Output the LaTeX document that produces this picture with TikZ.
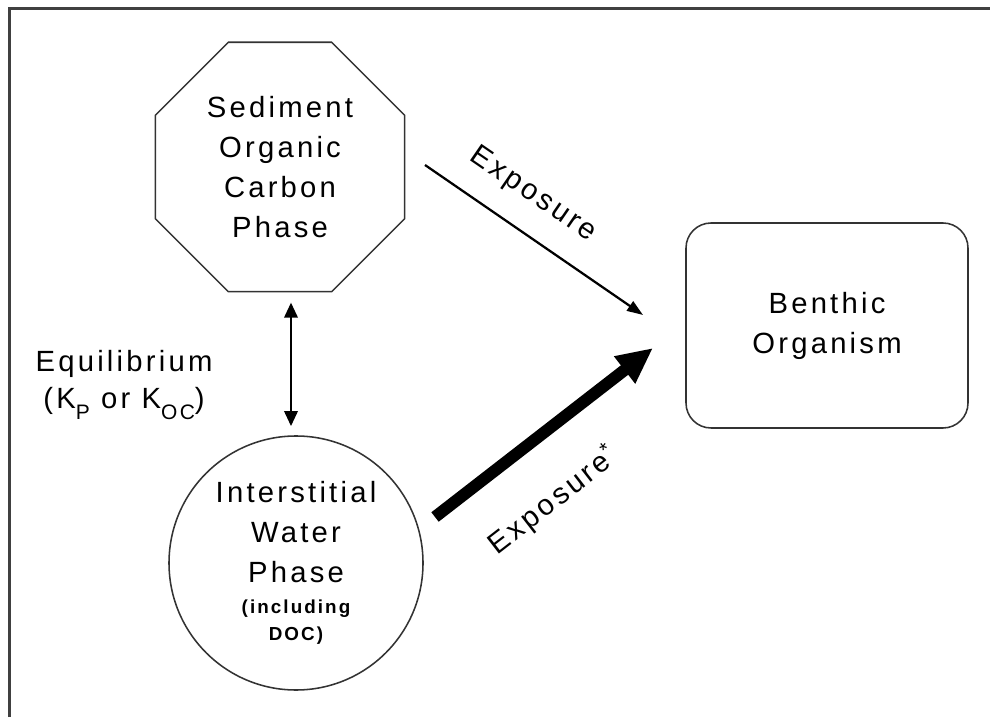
\documentclass[tikz,border=0pt]{standalone}
\usepackage{fontspec}
\setmainfont{Liberation Sans}[LetterSpace=11]
\usetikzlibrary{shapes.geometric,arrows.meta}
\newcommand{\lowsub}[1]{\raisebox{-8.5pt}{\fontsize{14.9}{15}\selectfont #1}}
\begin{document}
\begin{tikzpicture}[
      phase/.style={draw=black!80,line width=1.1pt,align=center,inner sep=0pt,
        font=\fontsize{20.8}{28.45}\selectfont},
      octa/.style={phase,regular polygon,regular polygon sides=8,minimum size=6.75cm},
      pore/.style={phase,circle,minimum size=6.35cm},
      organism/.style={phase,rectangle,rounded corners=0.625cm,
        minimum width=7.05cm,minimum height=5.125cm},
      lbl/.style={font=\fontsize{20.8}{26.3}\selectfont,align=center,inner sep=0pt}]
      \useasboundingbox (0,0) rectangle (24.75,17.925);
      \draw [line width=1.8pt,black!75] (0.2375,0) -- (0.2375,17.7125) -- (24.75,17.7125);
      \node [octa] (sed) at (7,13.75) {Sediment\\Organic\\Carbon\\Phase};
      \node [pore] (water) at (7.4,3.85) {Interstitial\\Water\\Phase\\[-6.4pt]{\fontsize{13.4}{19.2}\selectfont\bfseries (including}\\[-9.2pt]{\fontsize{13.4}{19.2}\selectfont\bfseries DOC)}};
      \node [organism] (org) at (20.675,9.7875) {Benthic\\Organism};
      \coordinate (eqaxis) at (7.275,0);
      \draw [line width=2.1pt,{Triangle[length=0.38cm,width=0.33cm]}-{Triangle[length=0.38cm,width=0.33cm]},shorten <=0.25cm,shorten >=0.225cm] (sed.south -| eqaxis) -- (water.north -| eqaxis);
      \coordinate (thinstart) at (10.625,13.8);
      \coordinate (thinend) at (16.075,10.05);
      \draw [line width=1.6pt,-{Triangle[length=0.4cm,width=0.28cm]}] (thinstart) -- (thinend);
      \coordinate (thickstart) at (10.875,5.0);
      \coordinate (thickend) at (16.325,9.225);
      \draw [line width=8.5pt,-{Triangle[length=0.9cm,width=0.8cm]}] (thickstart) -- (thickend);
      \node [lbl] (equil) at (3.1,8.3) {Equilibrium\\(K\lowsub{P} or K\lowsub{OC})};
      \node [lbl,rotate=-34.5] (expo) at (13.325,13.05) {Exposure};
      \node [lbl,rotate=37.8] (expostar) at (13.82,5.41) {Exposure\textsuperscript{*}};
\end{tikzpicture}
\end{document}
